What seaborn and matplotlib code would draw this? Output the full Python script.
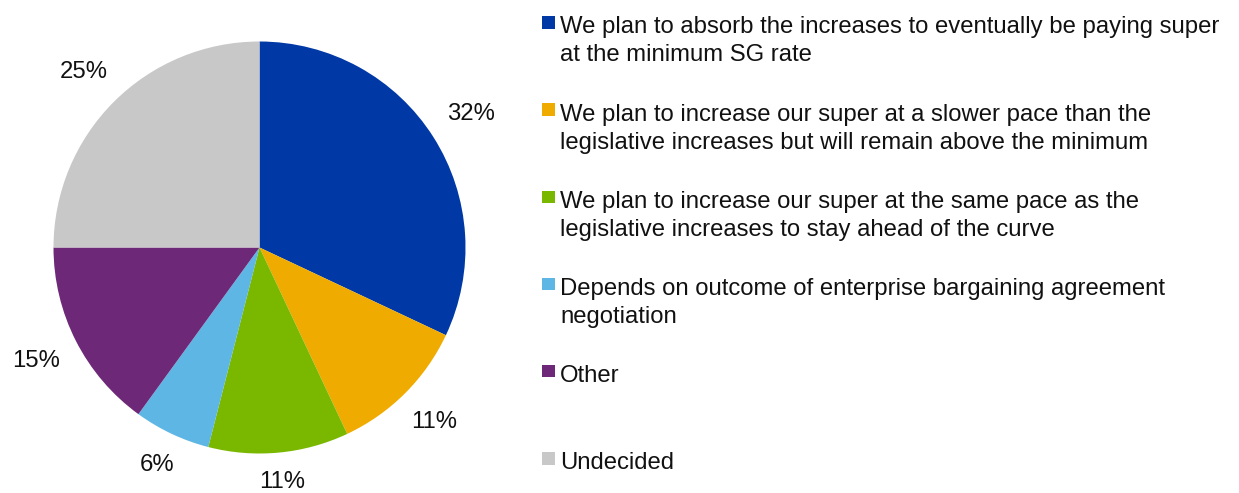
import matplotlib
matplotlib.use("Agg")
import numpy as np
import matplotlib.pyplot as plt
from matplotlib.patches import Rectangle
import seaborn as sns

# Survey responses: planned approach to superannuation guarantee increases
categories = [
    "We plan to absorb the increases to eventually be paying super\nat the minimum SG rate",
    "We plan to increase our super at a slower pace than the\nlegislative increases but will remain above the minimum",
    "We plan to increase our super at the same pace as the\nlegislative increases to stay ahead of the curve",
    "Depends on outcome of enterprise bargaining agreement\nnegotiation",
    "Other",
    "Undecided",
]
shares = [32, 11, 11, 6, 15, 25]
value_labels = [f"{v}%" for v in shares]
colors = ["#0039A6", "#F0AB00", "#7AB800", "#5EB6E4", "#6E2878", "#C8C8C8"]

sns.set_theme(style="white")
plt.rcParams["font.family"] = ["Liberation Sans", "DejaVu Sans"]
FS = 17.2
TXT = "#111111"

W, H = 1239, 493
fig = plt.figure(figsize=(W / 100, H / 100), dpi=100)

# Pie axes: centre (259, 247) px, radius 206 px
cx, cy, r = 259.5, 247.5, 206
ax = fig.add_axes([(cx - r) / W, (H - cy - r) / H, 2 * r / W, 2 * r / H])
wedges, _ = ax.pie(
    shares,
    colors=colors,
    startangle=90,
    counterclock=False,
    radius=1.0,
    wedgeprops=dict(linewidth=0),
)
ax.set_xlim(-1, 1)
ax.set_ylim(-1, 1)
ax.set_aspect("equal")
ax.axis("off")

# Value labels placed just outside each wedge, a fixed gap from the rim
fig.canvas.draw()
renderer = fig.canvas.get_renderer()
gap_px = 19
for w, lab in zip(wedges, value_labels):
    mid = np.deg2rad((w.theta1 + w.theta2) / 2)
    t = ax.text(0, 0, lab, fontsize=FS, color=TXT, ha="center", va="center")
    bb = t.get_window_extent(renderer)
    hw, hh = bb.width / 2, bb.height / 2 * 0.8
    c, s = np.cos(mid), np.sin(mid)
    extent = hw * abs(c) + hh * abs(s)
    d = (r + gap_px + extent) / r
    t.set_position((d * c, d * s))

# Legend with evenly spaced entries, square swatch beside the first line
x_box, x_text = 542, 560
y_first, step = 22.4, 87.2
box = 12.5
for i, (lab, col) in enumerate(zip(categories, colors)):
    y = y_first + i * step
    fig.patches.append(
        Rectangle((x_box / W, (H - y - box / 2) / H), box / W, box / H,
                  transform=fig.transFigure, facecolor=col, edgecolor="none")
    )
    fig.text(x_text / W, (H - y + 6) / H, lab, fontsize=FS, color=TXT,
             ha="left", va="top", linespacing=1.35,
             transform=fig.transFigure)

fig.savefig("out.png", dpi=100, facecolor="white")
